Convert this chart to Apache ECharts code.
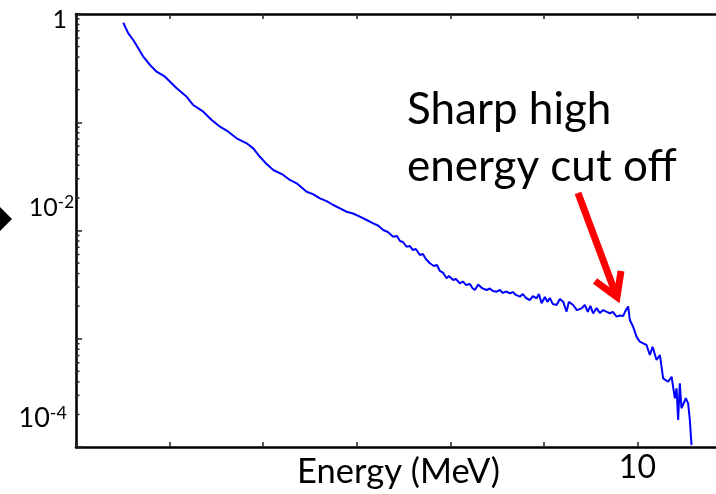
<!DOCTYPE html>
<html><head><meta charset="utf-8">
<script src="https://cdn.jsdelivr.net/npm/echarts@6/dist/echarts.min.js"></script>
<style>html,body{margin:0;padding:0;background:#fff}#c{width:716px;height:494px}</style>
</head><body><div id="c"></div>
<script>
// Energy (MeV)
const energy = [
  4.505,4.559,4.612,4.666,4.719,4.791,4.862,4.951,5.022,5.076,
  5.183,5.253,5.360,5.450,5.539,5.627,5.717,5.824,5.894,5.966,
  6.037,6.108,6.215,6.286,6.358,6.465,6.532,6.607,6.678,6.749,
  6.821,6.892,6.960,7.034,7.106,7.176,7.227,7.283,7.333,7.390,
  7.430,7.462,7.494,7.533,7.568,7.600,7.632,7.675,7.707,7.739,
  7.782,7.800,7.825,7.857,7.889,7.921,7.961,7.985,8.031,8.060,
  8.103,8.135,8.167,8.210,8.236,8.263,8.298,8.338,8.388,8.423,
  8.455,8.495,8.530,8.562,8.594,8.637,8.669,8.701,8.744,8.776,
  8.808,8.851,8.883,8.922,8.947,8.976,9.011,9.038,9.064,9.096,
  9.136,9.171,9.206,9.243,9.267,9.313,9.353,9.403,9.438,9.470,
  9.497,9.527,9.563,9.598,9.634,9.673,9.705,9.737,9.777,9.812,
  9.847,9.871,9.901,9.919,9.954,9.991,10.026,10.061,10.097,10.133,
  10.162,10.204,10.240,10.275,10.328,10.365,10.400,10.418,10.435,10.453,
  10.471,10.517,10.542,10.560,10.578
];
// Relative intensity (log scale)
const intensity = [
  0.831,0.663,0.575,0.482,0.403,0.338,0.293,0.2635,0.229,0.206,
  0.172,0.1443,0.1252,0.1049,0.0910,0.0818,0.0711,0.0639,0.0574,0.0480,
  0.0411,0.0362,0.0326,0.0293,0.0273,0.0228,0.0217,0.0198,0.0187,0.0172,
  0.0160,0.0149,0.01436,0.01341,0.0125,0.01165,0.01112,0.01011,0.00969,0.00877,
  0.00890,0.00800,0.00783,0.00709,0.00719,0.00660,0.00675,0.00594,0.00607,0.00545,
  0.00498,0.00517,0.00470,0.00480,0.00423,0.00409,0.00362,0.00380,0.00349,0.00356,
  0.00325,0.00338,0.00314,0.00320,0.00294,0.00282,0.00317,0.00294,0.00282,0.00291,
  0.00276,0.00272,0.00282,0.00265,0.00273,0.00263,0.00270,0.00254,0.00245,0.00259,
  0.00238,0.00228,0.00248,0.00236,0.00259,0.00213,0.00243,0.00219,0.00238,0.00209,
  0.00205,0.00233,0.00220,0.00178,0.00219,0.00205,0.00184,0.00191,0.00205,0.00177,
  0.00201,0.00171,0.00192,0.00173,0.00184,0.00177,0.00172,0.00177,0.00160,0.00164,
  0.00162,0.00180,0.00199,0.00149,0.00129,0.00104,0.000939,0.000908,0.000876,0.000708,
  0.000844,0.000636,0.000708,0.000431,0.000401,0.000446,0.000282,0.000348,0.000178,0.000388,
  0.000228,0.000282,0.000253,0.000178,0.000104
];
const xLabelValues = [10];
const yLabelExponents = [0, -2, -4];
const xName = 'Energy (MeV)';
const annotation = 'Sharp high\nenergy cut off';

const FONT = 'Lato, "Open Sans", sans-serif';
const lineData = energy.map((e, i) => [e, intensity[i]]);
const minorTickValues = [];
for (let d = -4; d < 0; d++) for (let m = 2; m <= 9; m++) minorTickValues.push([4, m * Math.pow(10, d)]);

const chart = echarts.init(document.getElementById('c'), null, {renderer: 'canvas'});
chart.setOption({
  animation: false,
  backgroundColor: '#fff',
  grid: {left: 76, top: 14, bottom: 47, right: -15, containLabel: false, outerBoundsMode: 'none'},
  xAxis: [{
    type: 'value', min: 4, max: 11, interval: 1, position: 'bottom',
    axisLine: {lineStyle: {color: '#000', width: 2.6}},
    axisTick: {inside: true, length: 5, lineStyle: {color: '#222', width: 1.5}},
    splitLine: {show: false},
    axisLabel: {
      margin: 5, color: '#000', fontSize: 32, fontFamily: FONT,
      formatter: v => xLabelValues.includes(v) ? String(v) : ''
    },
    name: xName, nameLocation: 'middle', nameGap: 7, nameMoveOverlap: false,
    nameTextStyle: {color: '#000', fontSize: 34.5, fontFamily: FONT, verticalAlign: 'top', padding: [0, 10, 0, 0]}
  }, {
    type: 'value', min: 4, max: 11, interval: 1, position: 'top',
    axisLine: {lineStyle: {color: '#000', width: 2.6}},
    axisTick: {inside: true, length: 5, lineStyle: {color: '#222', width: 1.5}},
    splitLine: {show: false},
    axisLabel: {show: false}
  }],
  yAxis: [{
    type: 'log', logBase: 10, min: 1e-4, max: 1,
    axisLine: {show: true, lineStyle: {color: '#000', width: 2.6}},
    axisTick: {show: true, inside: true, length: 6, lineStyle: {color: '#222', width: 1.5}},
    splitLine: {show: false},
    axisLabel: {
      margin: 2, color: '#000', fontFamily: FONT,
      formatter: function (v) {
        const e = Math.round(Math.log10(v));
        if (!yLabelExponents.includes(e)) return '';
        if (e === 0) return '{g0| }\n{one|1}';
        if (e === -2) return '{b2|10}{s2|-2}\n{g2| }';
        return '{b4|10}{s4|-4}\n{g4| }';
      },
      rich: {
        g0: {height: 12, fontSize: 10},
        one: {fontSize: 25, lineHeight: 26, fontFamily: FONT, color: '#000', padding: [0, 7, 0, 0]},
        b2: {fontSize: 25, lineHeight: 26, fontFamily: FONT, color: '#000'},
        s2: {fontSize: 17, lineHeight: 18, fontFamily: FONT, color: '#000', verticalAlign: 'top'},
        g2: {height: 46, fontSize: 10},
        b4: {fontSize: 27, lineHeight: 28, fontFamily: FONT, color: '#000'},
        s4: {fontSize: 18, lineHeight: 19, fontFamily: FONT, color: '#000', verticalAlign: 'top', padding: [0, 7, 0, 0]},
        g4: {height: 57, fontSize: 10}
      }
    }
  }],
  series: [{
    type: 'line', xAxisIndex: 0, yAxisIndex: 0,
    data: lineData, showSymbol: false, symbol: 'none',
    lineStyle: {color: '#0000ff', width: 2}, z: 3
  }, {
    type: 'custom', xAxisIndex: 0, yAxisIndex: 0, silent: true, clip: false,
    data: minorTickValues, encode: {x: 0, y: 1}, z: 4,
    renderItem: function (params, api) {
      const p = api.coord([api.value(0), api.value(1)]);
      return {type: 'line', shape: {x1: p[0], y1: p[1], x2: p[0] + 3.5, y2: p[1]},
              style: {stroke: '#222', lineWidth: 1.5}};
    }
  }],
  graphic: [
    {type: 'polygon', shape: {points: [[0, 207], [12, 219], [0, 231]]}, style: {fill: '#000'}},
    {type: 'text', x: 407, y: 81, style: {text: annotation, font: '44px ' + FONT, fill: '#000', lineHeight: 57}},
    {type: 'polyline', shape: {points: [[578, 193], [615, 292]]}, style: {stroke: '#ff0000', lineWidth: 7, fill: null}, z: 10},
    {type: 'polyline', shape: {points: [[595, 281], [617, 297], [621, 271]]}, style: {stroke: '#ff0000', lineWidth: 7, lineJoin: 'miter', fill: null}, z: 10}
  ]
});
</script>
</body></html>
